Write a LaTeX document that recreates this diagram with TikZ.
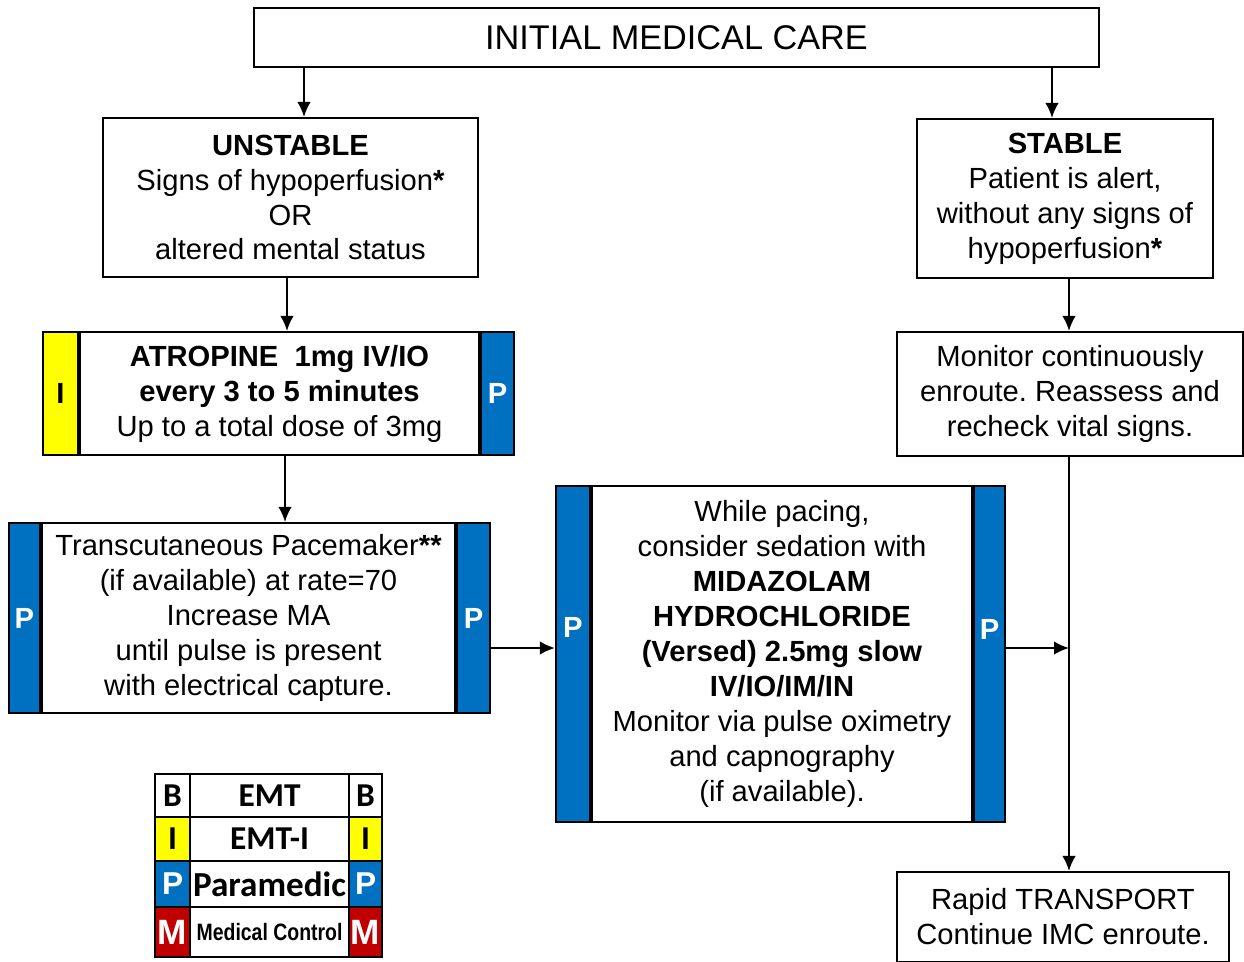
\documentclass[tikz,border=0pt]{standalone}
\usepackage{fontspec}
\setmainfont{Liberation Sans}
\newfontfamily\legendfont{Carlito}
\newfontfamily\narrowfont[FakeStretch=0.82]{Liberation Sans}
\usetikzlibrary{shapes.geometric, arrows.meta}
\frenchspacing

\definecolor{pblue}{HTML}{0070C0}
\definecolor{iyellow}{HTML}{FFFF00}
\definecolor{mred}{HTML}{C00000}

\tikzstyle{wblock} = [rectangle, draw, line width=1.2pt, fill=white, align=center, inner sep=0pt, font=\fontsize{16.6}{19.9}\selectfont]
\tikzstyle{pstrip} = [rectangle, draw, line width=1.2pt, fill=pblue, text=white, inner sep=0pt, font=\bfseries\fontsize{16.6}{19.9}\selectfont]
\tikzstyle{istrip} = [rectangle, draw, line width=1.2pt, fill=iyellow, text=black, inner sep=0pt, font=\bfseries\fontsize{16.6}{19.9}\selectfont]
\tikzstyle{lcell} = [rectangle, draw, line width=1.2pt, fill=white, inner sep=0pt, anchor=north west, font=\legendfont\bfseries\fontsize{19}{22}\selectfont]
\tikzstyle{line} = [draw, line width=1.2pt, color=black, -{Latex[length=0.3cm, width=0.27cm]}]

\begin{document}
\begin{tikzpicture}[x=0.02cm, y=-0.02cm]
    \useasboundingbox (0,0) rectangle (1244,961);
    % Place nodes
    \node [wblock, minimum width=16.9cm, minimum height=1.18cm, font=\fontsize{19.5}{23}\selectfont] (init) at (676.5,37.5) {INITIAL MEDICAL CARE};
    \node [wblock, minimum width=7.5cm, minimum height=3.18cm] (unstable) at (290.5,197.5) {\textbf{UNSTABLE}\\Signs of hypoperfusion\textbf{*}\\OR\\altered mental status};
    \node [wblock, minimum width=5.92cm, minimum height=3.18cm] (stable) at (1065,198.5) {\textbf{STABLE}\\Patient is alert,\\without any signs of\\hypoperfusion\textbf{*}};
    \node [wblock, minimum width=7.98cm, minimum height=2.46cm] (atropine) at (279.5,393.5) {\textbf{ATROPINE\ \ 1mg IV/IO}\\\textbf{every 3 to 5 minutes}\\Up to a total dose of 3mg};
    \node [istrip, anchor=east, minimum width=0.7cm, minimum height=2.46cm] (atropineL) at (atropine.west) {I};
    \node [pstrip, anchor=west, minimum width=0.66cm, minimum height=2.46cm] (atropineR) at (atropine.east) {P};
    \node [wblock, minimum width=6.92cm, minimum height=2.48cm] (monitor) at (1070,394) {Monitor continuously\\enroute. Reassess and\\recheck vital signs.};
    \node [wblock, minimum width=8.26cm, minimum height=3.8cm] (pacer) at (248.5,618) {Transcutaneous Pacemaker\textbf{**}\\(if available) at rate=70\\Increase MA\\until pulse is present\\with electrical capture.};
    \node [pstrip, anchor=east, minimum width=0.62cm, minimum height=3.8cm] (pacerL) at (pacer.west) {P};
    \node [pstrip, anchor=west, minimum width=0.66cm, minimum height=3.8cm] (pacerR) at (pacer.east) {P};
    \node [wblock, minimum width=7.6cm, minimum height=6.72cm] (sedation) at (782,654) {While pacing,\\consider sedation with\\\textbf{MIDAZOLAM}\\\textbf{HYDROCHLORIDE}\\\textbf{(Versed) 2.5mg slow}\\\textbf{IV/IO/IM/IN}\\Monitor via pulse oximetry\\and capnography\\(if available).};
    \node [pstrip, anchor=east, minimum width=0.68cm, minimum height=6.72cm, text height=11.5pt, text depth=30pt] (sedationL) at (sedation.west) {P};
    \node [pstrip, anchor=west, minimum width=0.62cm, minimum height=6.72cm, text height=11.5pt, text depth=28pt] (sedationR) at (sedation.east) {P};
    \node [wblock, minimum width=6.64cm, minimum height=1.8cm] (transport) at (1063,917) {Rapid TRANSPORT\\Continue IMC enroute.};
    \coordinate (join) at (1069,648);
    % Legend
    \node [lcell, minimum width=0.7cm, minimum height=0.86cm] (lB) at (154,773) {B};
    \node [lcell, minimum width=3.18cm, minimum height=0.86cm] (lEMT) at (189,773) {EMT};
    \node [lcell, minimum width=0.66cm, minimum height=0.86cm] (rB) at (348,773) {B};
    \node [lcell, fill=iyellow, minimum width=0.7cm, minimum height=0.88cm] (lI) at (154,816) {I};
    \node [lcell, minimum width=3.18cm, minimum height=0.88cm] (lEMTI) at (189,816) {EMT-I};
    \node [lcell, fill=iyellow, minimum width=0.66cm, minimum height=0.88cm] (rI) at (348,816) {I};
    \node [lcell, fill=pblue, text=white, minimum width=0.7cm, minimum height=0.92cm, font=\bfseries\fontsize{18}{22}\selectfont] (lP) at (154,860) {P};
    \node [lcell, minimum width=3.18cm, minimum height=0.92cm, font=\legendfont\bfseries\fontsize{20}{24}\selectfont] (lPara) at (189,860) {Paramedic};
    \node [lcell, fill=pblue, text=white, minimum width=0.66cm, minimum height=0.92cm, font=\bfseries\fontsize{18}{22}\selectfont] (rP) at (348,860) {P};
    \node [lcell, fill=mred, text=white, minimum width=0.7cm, minimum height=1.0cm, font=\bfseries\fontsize{20}{24}\selectfont] (lM) at (154,906) {M};
    \node [lcell, minimum width=3.18cm, minimum height=1.0cm, font=\narrowfont\bfseries\fontsize{13.5}{16}\selectfont] (lMC) at (189,906) {Medical Control};
    \node [lcell, fill=mred, text=white, minimum width=0.66cm, minimum height=1.0cm, font=\bfseries\fontsize{20}{24}\selectfont] (rM) at (348,906) {M};
    % Draw edges
    \path [line] (init.south -| 304,0) -- (unstable.north -| 304,0);
    \path [line] (init.south -| 1052,0) -- (stable.north -| 1052,0);
    \path [line] (unstable.south -| 287,0) -- (atropine.north -| 287,0);
    \path [line] (atropine.south -| 285,0) -- (pacer.north -| 285,0);
    \path [line] (stable.south -| 1069,0) -- (monitor.north -| 1069,0);
    \path [line] (monitor.south -| 1069,0) -- (transport.north -| 1069,0);
    \path [line] (pacerR.east |- 0,648) -- (sedationL.west |- 0,648);
    \path [line] (sedationR.east |- 0,648) -- (join);
\end{tikzpicture}
\end{document}
